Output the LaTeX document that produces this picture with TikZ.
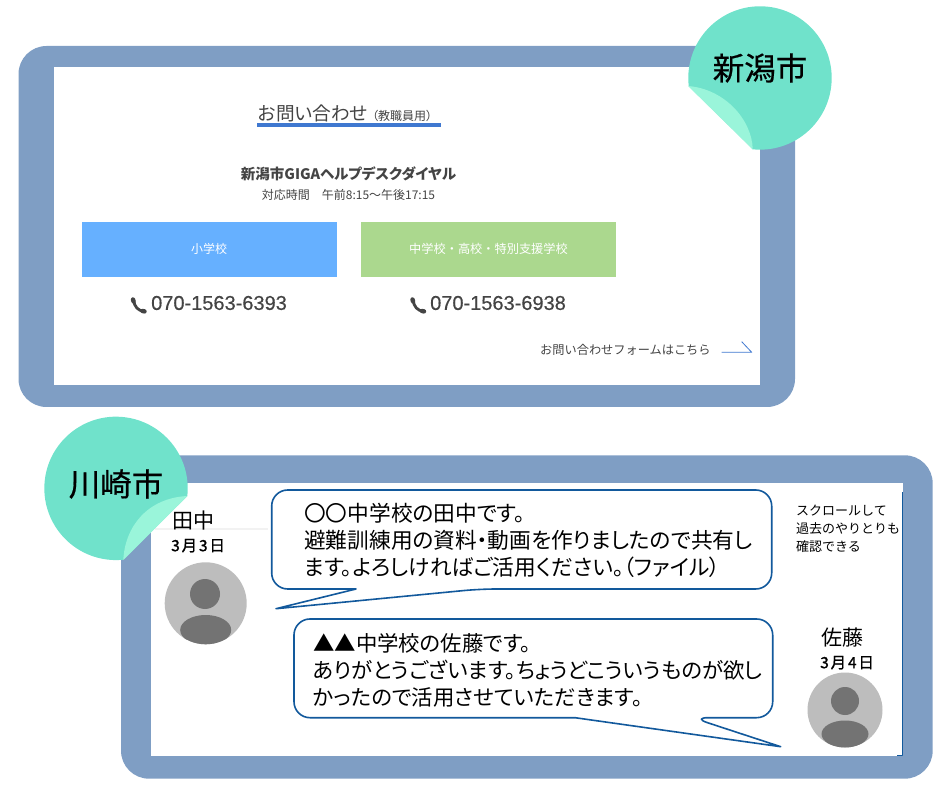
\documentclass[tikz,border=0pt]{standalone}
\usepackage{fontspec}
\newfontfamily\jp[RawFeature=+palt]{Noto Sans CJK JP}
\newfontfamily\jpm{Noto Sans CJK JP}
\newfontfamily\jptag[FakeBold=0.6]{Noto Sans CJK JP}
\newfontfamily\jpdate[LetterSpace=12,FakeBold=1.2]{Noto Sans CJK JP}
\newfontfamily\telfont[FakeBold=0.4]{Liberation Sans}
\definecolor{framecol}{HTML}{7F9EC4}
\definecolor{tagcol}{HTML}{70E2CB}
\definecolor{flapcol}{HTML}{9AF5DA}
\definecolor{bubblecol}{HTML}{12599C}
\definecolor{greytext}{HTML}{444444}
\definecolor{linecol}{HTML}{3F78D0}
\definecolor{elemcol}{HTML}{66B0FF}
\definecolor{juniorcol}{HTML}{ABD88E}
\tikzset{
  framebox/.style={fill=framecol,rounded corners=28pt},
  bubblebox/.style={draw=bubblecol,fill=white,line width=1.6pt,line join=round},
  sizetext/.style={font=\jp\fontsize{#1}{#1}\selectfont,inner sep=0pt},
  fixedtext/.style={font=\jpm\fontsize{#1}{#1}\selectfont,inner sep=0pt},
  datetext/.style={font=\jpdate\fontsize{15.5}{15.5}\selectfont,inner sep=0pt,anchor=west},
  tagtext/.style={font=\jptag\fontsize{31.5}{31.5}\selectfont,inner sep=0pt},
  teltext/.style={font=\telfont\fontsize{20}{20}\selectfont,inner sep=0pt,anchor=west,text=greytext},
  lefttext/.style={anchor=west,align=left,inner sep=0pt,font=\jp\fontsize{#1}{27}\selectfont}
}
\begin{document}
\begin{tikzpicture}[line cap=butt,line join=round,x=1pt,y=1pt]
\useasboundingbox (0,0) rectangle (940,788);
% upper frame
\fill[framebox] (18.5,381) rectangle (795,742);
\fill[white] (53.5,403) rectangle (760,721);
\node[sizetext=18.7,text=greytext,anchor=west] (title) at (258,675) {お問い合わせ};
\node[sizetext=12,text=greytext,anchor=west] (titlesub) at (372,672) {（教職員用）};
\fill[linecol] (257,661) rectangle (440.5,664.5);
\node[sizetext=14.5,text=greytext,font=\jp\bfseries\fontsize{14.5}{14.5}\selectfont] (desk) at (348.5,614) {新潟市GIGAヘルプデスクダイヤル};
\node[sizetext=12,text=greytext] (hours) at (348.5,593.5) {対応時間　午前8:15〜午後17:15};
\fill[elemcol] (81.5,511) rectangle (337,566);
\fill[juniorcol] (361,511) rectangle (616,566);
\node[fixedtext=12,text=white] (elem) at (209,539) {小学校};
\node[fixedtext=12.2,text=white] (junior) at (488.5,539) {中学校・高校・特別支援学校};
\node[teltext] (telone) at (151,485) {070-1563-6393};
\node[teltext] (teltwo) at (430,485) {070-1563-6938};
\foreach \hx in {0,279.5}{
  \draw[greytext,line width=2.8pt,xshift=\hx pt] (133.5,488) .. controls (134.5,481) and (138,477.5) .. (144,476.5);
  \draw[greytext,line width=4.4pt,line cap=round,xshift=\hx pt] (133,488.5) -- (133.6,486.5);
  \draw[greytext,line width=4.4pt,line cap=round,xshift=\hx pt] (142.5,477) -- (144.5,476.6);
}
\node[fixedtext=12.2,text=greytext,anchor=west] (form) at (540,438) {お問い合わせフォームはこちら};
\coordinate (arrowa) at (721.7,435.7);
\coordinate (arrowb) at (751.7,435.7);
\coordinate (arrowc) at (741.7,446.3);
\draw[linecol,line width=0.8pt] (arrowa) -- (arrowb) -- (arrowc);
% upper sticker
\fill[tagcol] (752.75,638.7) arc[start angle=264.2,end angle=546.3,radius=71.7] -- cycle;
\fill[flapcol] (688,702) .. controls (725,699) and (752,668) .. (752.75,638.7) -- cycle;
\node[tagtext] (niigata) at (760,720) {新潟市};
% lower frame
\fill[framebox] (121,9.3) rectangle (932.7,332.7);
\fill[white] (151,32) rectangle (902.7,305);
\draw[bubblecol,line width=0.8pt] (897,33) -- (902,33) -- (902,296.3);
\fill[black!5] (155,257.5) rectangle (268,260);
% avatars
\fill[black!26] (205.7,184.7) circle[radius=41];
\fill[black!55] (205,194) circle[radius=15];
\begin{scope}
\clip (205.7,184.7) circle[radius=41];
\fill[black!55] (205.7,158) ellipse[x radius=25.5,y radius=15];
\end{scope}
\fill[black!26] (845,78) circle[radius=37.5];
\fill[black!55] (845,87) circle[radius=14];
\begin{scope}
\clip (845,78) circle[radius=37.5];
\fill[black!55] (845,54) ellipse[x radius=23.5,y radius=13.5];
\end{scope}
\node[sizetext=21,anchor=west] (tanaka) at (172,267.3) {田中};
\node[datetext] (dateone) at (171,242.3) {3月3日};
\node[sizetext=21,anchor=west] (sato) at (821,150) {佐藤};
\node[datetext] (datetwo) at (820,125.3) {3月4日};
% speech bubbles
\draw[bubblebox] (356,199) [rounded corners=16pt] -- (271.7,199) -- (271.7,298) -- (771.7,298) -- (771.7,199) -- (480,199) [sharp corners] -- (276,179.3) -- cycle;
\draw[bubblebox] (575,70.3) [rounded corners=16pt] -- (294,70.3) -- (294,169) -- (772.7,169) -- (772.7,70.3) -- (692.3,70.3) [sharp corners] -- (780.7,41.3) -- cycle;
\node[lefttext=21.7] (msgone) at (304,248) {〇〇中学校の田中です。\\避難訓練用の資料・動画を作りましたので共有し\\ます。よろしければご活用ください。（ファイル）};
\node[lefttext=21.4] (msgtwo) at (313,118) {▲▲中学校の佐藤です。\\ありがとうございます。ちょうどこういうものが欲し\\かったので活用させていただきます。};
\node[anchor=west,align=left,inner sep=0pt,font=\jpm\fontsize{13}{17.8}\selectfont] (scroll) at (796,259) {スクロールして\\過去のやりとりも\\確認できる};
% lower sticker
\fill[tagcol] (187.3,292) arc[start angle=-6.1,end angle=275.8,radius=71.7] -- cycle;
\fill[flapcol] (187.3,292) .. controls (148,290) and (125,262) .. (123.3,228) -- cycle;
\node[tagtext] (kawasaki) at (116,304) {川崎市};
\end{tikzpicture}
\end{document}
